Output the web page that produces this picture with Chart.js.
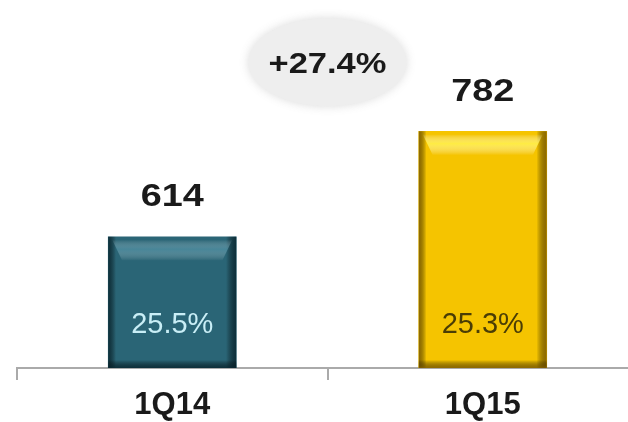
<!DOCTYPE html>
<html>
<head>
<meta charset="utf-8">
<script src="https://cdn.jsdelivr.net/npm/chart.js@4.4.1/dist/chart.umd.min.js"></script>
<style>
  html, body { margin: 0; padding: 0; background: #fff; overflow: hidden; }
  #wrap { width: 640px; height: 422px; }
</style>
</head>
<body>
<div id="wrap"><canvas id="c"></canvas></div>
<script>
// quarter data
const categories = ['1Q14', '1Q15'];
const values = [614, 782];
const shares = [25.5, 25.3];

// bar looks: body, dark edge, highlight, inner text colour
const barBody = ['#2a6576', '#f5c400'];
const barEdge = ['rgba(8,38,48,0.85)', 'rgba(125,90,0,0.85)'];
const barHigh = ['rgba(95,160,180,0.55)', 'rgba(255,238,70,0.95)'];
const shareColor = ['#c9eef6', '#4a3d05'];

const growth = ((values[1] / values[0] - 1) * 100).toFixed(1);
const FONT = "'Liberation Sans', Arial, sans-serif";

function wideText(ctx, txt, x, y, sx) {
  ctx.save();
  ctx.translate(x, y);
  ctx.scale(sx, 1);
  ctx.fillText(txt, 0, 0);
  ctx.restore();
}

// bevel, labels and the growth bubble
const decor = {
  id: 'decor',
  afterDatasetsDraw(chart) {
    const ctx = chart.ctx;
    const bottom = chart.chartArea.bottom;
    const meta = chart.getDatasetMeta(0);
    meta.data.forEach((bar, i) => {
      const p = bar.getProps(['x', 'y', 'width'], true);
      const base = bottom;
      const l = p.x - p.width / 2, r = p.x + p.width / 2;
      ctx.save();
      // side edges
      let g = ctx.createLinearGradient(l, 0, r, 0);
      g.addColorStop(0, barEdge[i]);
      g.addColorStop(0.06, 'rgba(0,0,0,0)');
      g.addColorStop(0.92, 'rgba(0,0,0,0)');
      g.addColorStop(1, barEdge[i]);
      ctx.fillStyle = g;
      ctx.fillRect(l, p.y, p.width, base - p.y);
      // bottom edge
      g = ctx.createLinearGradient(0, base - 8, 0, base);
      g.addColorStop(0, 'rgba(0,0,0,0)');
      g.addColorStop(1, barEdge[i]);
      ctx.fillStyle = g;
      ctx.fillRect(l, base - 8, p.width, 8);
      // top bevel highlight
      g = ctx.createLinearGradient(0, p.y + 3, 0, p.y + 24);
      g.addColorStop(0, 'rgba(255,255,255,0)');
      g.addColorStop(0.45, barHigh[i]);
      g.addColorStop(1, 'rgba(255,255,255,0)');
      ctx.fillStyle = g;
      ctx.beginPath();
      ctx.moveTo(l + 4, p.y + 3);
      ctx.lineTo(r - 4, p.y + 3);
      ctx.lineTo(r - 14, p.y + 24);
      ctx.lineTo(l + 14, p.y + 24);
      ctx.closePath();
      ctx.fill();
      ctx.restore();

      ctx.save();
      ctx.textAlign = 'center';
      ctx.textBaseline = 'middle';
      ctx.fillStyle = '#1a1a1a';
      ctx.font = 'bold 31px ' + FONT;
      wideText(ctx, String(values[i]), p.x, p.y - 39, 1.22);
      ctx.fillStyle = shareColor[i];
      ctx.font = '29px ' + FONT;
      ctx.fillText(shares[i].toFixed(1) + '%', p.x, base - 43);
      ctx.restore();
    });

    // growth bubble between the bars
    const a = meta.data[0], b = meta.data[1];
    const cx = (a.x + b.x) / 2;
    const cy = Math.min(a.y, b.y) - 69;
    ctx.save();
    ctx.fillStyle = '#eeeeee';
    ctx.shadowColor = 'rgba(215,215,215,0.9)';
    ctx.shadowBlur = 10;
    ctx.beginPath();
    ctx.ellipse(cx, cy, 79, 44, 0, 0, Math.PI * 2);
    ctx.fill();
    ctx.restore();
    ctx.save();
    ctx.textAlign = 'center';
    ctx.textBaseline = 'middle';
    ctx.fillStyle = '#1a1a1a';
    ctx.font = 'bold 30px ' + FONT;
    wideText(ctx, '+' + growth + '%', cx, cy + 3, 1.15);
    ctx.restore();
  }
};

new Chart(document.getElementById('c'), {
  type: 'bar',
  data: {
    labels: categories,
    datasets: [{
      data: values,
      backgroundColor: barBody,
      borderWidth: 0,
      barThickness: 128
    }]
  },
  options: {
    responsive: true,
    maintainAspectRatio: false,
    animation: false,
    layout: { padding: { left: 17, right: 2, top: 10, bottom: -9 } },
    plugins: { legend: { display: false }, tooltip: { enabled: false } },
    scales: {
      x: {
        grid: { drawOnChartArea: false, color: '#aaaaaa', lineWidth: 2, tickLength: 12 },
        border: { color: '#aaaaaa', width: 2 },
        ticks: { color: '#1a1a1a', font: { family: FONT, size: 31, weight: 'bold', lineHeight: 1.0 }, padding: 10 }
      },
      y: { display: false, min: 405, max: 975 }
    }
  },
  plugins: [decor]
});
</script>
</body>
</html>
